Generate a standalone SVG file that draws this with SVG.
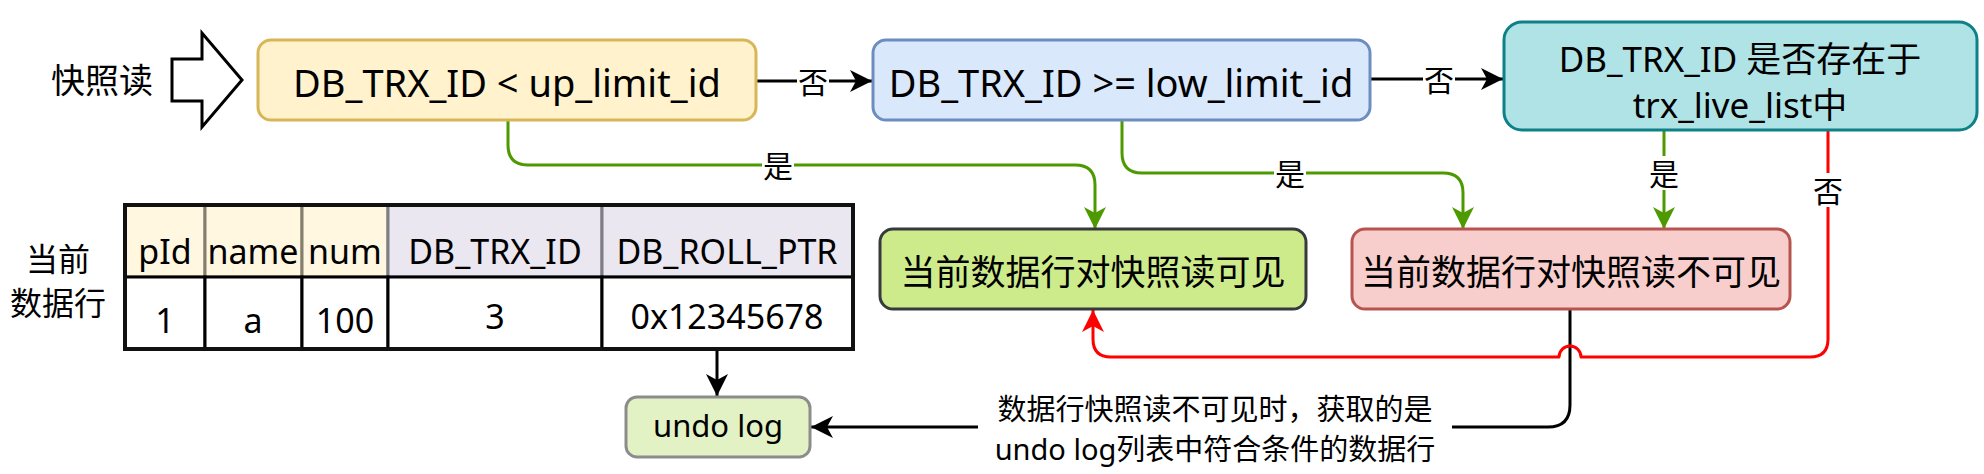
<svg xmlns="http://www.w3.org/2000/svg" width="1984" height="474" viewBox="0 0 1984 474">
<style>
  text { font-family: "Noto Sans", "Noto Sans CJK SC", sans-serif; fill: #000; text-anchor: middle; dominant-baseline: central; }
  .big { font-size: 38px; }
  .mid { font-size: 35px; }
  .tbl { font-size: 34px; }
  .lbl { font-size: 30px; }
  .bg { fill: #ffffff; stroke: none; }
  .ln { fill: none; stroke-width: 3; stroke-linejoin: round; }
  .blk { stroke: #000000; }
  .grn { stroke: #4d9900; }
  .red { stroke: #ff0000; }
  .box { stroke-width: 3; }
</style>
<defs>
  <marker id="aBlack" markerUnits="userSpaceOnUse" markerWidth="24" markerHeight="24" refX="22" refY="11" orient="auto">
    <path d="M0,0 L22,11 L0,22 L6,11 Z" fill="#000000"/>
  </marker>
  <marker id="aGreen" markerUnits="userSpaceOnUse" markerWidth="24" markerHeight="24" refX="22" refY="11" orient="auto">
    <path d="M0,0 L22,11 L0,22 L6,11 Z" fill="#4d9900"/>
  </marker>
  <marker id="aRed" markerUnits="userSpaceOnUse" markerWidth="24" markerHeight="24" refX="22" refY="11" orient="auto">
    <path d="M0,0 L22,11 L0,22 L6,11 Z" fill="#ff0000"/>
  </marker>
</defs>
<rect x="0" y="0" width="1984" height="474" fill="#ffffff"/>

<g id="snapshot-read">
  <text x="102" y="80" style="font-size:34px">快照读</text>
  <polygon points="172,59 202,59 202,33 242,80 202,127 202,101 172,101" fill="#ffffff" stroke="#000000" stroke-width="3" stroke-linejoin="miter"/>
</g>

<g id="connectors">
  <!-- box1 -> box2 -->
  <path class="ln blk" d="M757,81 H872" marker-end="url(#aBlack)"/>
  <!-- box2 -> box3 -->
  <path class="ln blk" d="M1370,79 H1503" marker-end="url(#aBlack)"/>
  <!-- box1 -> visible -->
  <path class="ln grn" d="M508,120 V145 Q508,165 528,165 H1075 Q1095,165 1095,185 V229" marker-end="url(#aGreen)"/>
  <!-- box2 -> invisible -->
  <path class="ln grn" d="M1122,120 V153 Q1122,173 1142,173 H1443 Q1463,173 1463,193 V229" marker-end="url(#aGreen)"/>
  <!-- box3 -> invisible -->
  <path class="ln grn" d="M1664,130 V229" marker-end="url(#aGreen)"/>
  <!-- invisible -> undo log -->
  <path class="ln blk" d="M1570,309 V405 Q1570,427 1548,427 H811" marker-end="url(#aBlack)"/>
  <!-- box3 -> visible (red) -->
  <path class="ln red" d="M1828,130 V339 Q1828,357 1810,357 H1581 A11,11 0 0 0 1559,357 H1111 Q1093,357 1093,339 V310" marker-end="url(#aRed)"/>
  <!-- table -> undo log -->
  <path class="ln blk" d="M717,349 V396" marker-end="url(#aBlack)"/>

  <!-- labels -->
  <rect class="bg" x="797" y="64" width="32" height="34"/>
  <text class="lbl" x="813" y="81">否</text>
  <rect class="bg" x="1423" y="62" width="32" height="34"/>
  <text class="lbl" x="1439" y="79">否</text>
  <rect class="bg" x="762" y="148" width="32" height="34"/>
  <text class="lbl" x="778" y="165">是</text>
  <rect class="bg" x="1274" y="156" width="32" height="34"/>
  <text class="lbl" x="1290" y="173">是</text>
  <rect class="bg" x="1648" y="156" width="32" height="34"/>
  <text class="lbl" x="1664" y="173">是</text>
  <rect class="bg" x="1812" y="173" width="32" height="34"/>
  <text class="lbl" x="1828" y="190">否</text>
  <rect class="bg" x="978" y="390" width="474" height="78"/>
  <text x="1215" y="408" style="font-size:29px">数据行快照读不可见时，获取的是</text>
  <text x="1215" y="448" style="font-size:29px">undo log列表中符合条件的数据行</text>
</g>

<g id="cond-up-limit">
  <rect class="box" x="258" y="40" width="498" height="80" rx="13" fill="#fff2cc" stroke="#d6b656"/>
  <text class="big" x="507" y="82">DB_TRX_ID &lt; up_limit_id</text>
</g>

<g id="cond-low-limit">
  <rect class="box" x="873" y="40" width="497" height="80" rx="13" fill="#dae8fc" stroke="#6c8ebf"/>
  <text class="big" x="1121" y="82">DB_TRX_ID &gt;= low_limit_id</text>
</g>

<g id="cond-live-list">
  <rect class="box" x="1504" y="22" width="473" height="108" rx="18" fill="#b0e3e6" stroke="#0e8088"/>
  <text x="1740" y="58" style="font-size:35px">DB_TRX_ID 是否存在于</text>
  <text x="1740" y="104" style="font-size:35px">trx_live_list中</text>
</g>

<g id="visible">
  <rect class="box" x="880" y="229" width="426" height="80" rx="13" fill="#cdeb8b" stroke="#36393d"/>
  <text class="mid" x="1093" y="271">当前数据行对快照读可见</text>
</g>

<g id="invisible">
  <rect class="box" x="1352" y="229" width="438" height="80" rx="13" fill="#f8cecc" stroke="#b85450"/>
  <text class="mid" x="1571" y="271">当前数据行对快照读不可见</text>
</g>

<g id="undo-log">
  <rect class="box" x="626" y="397" width="184" height="60" rx="11" fill="#e2f2c4" stroke="#8c8c8c"/>
  <text x="718" y="425" style="font-size:31px">undo log</text>
</g>

<g id="current-row-label">
  <text x="58" y="258" style="font-size:32px">当前</text>
  <text x="58" y="302" style="font-size:32px">数据行</text>
</g>

<g id="data-table">
  <rect x="125" y="205" width="80" height="72" fill="#fff7e0" stroke="#847e6e" stroke-width="3"/>
  <rect x="205" y="205" width="97" height="72" fill="#fff7e0" stroke="#847e6e" stroke-width="3"/>
  <rect x="302" y="205" width="86" height="72" fill="#fff7e0" stroke="#847e6e" stroke-width="3"/>
  <rect x="388" y="205" width="214" height="72" fill="#ebe7f1" stroke="#7d7d85" stroke-width="3"/>
  <rect x="602" y="205" width="251" height="72" fill="#ebe7f1" stroke="#7d7d85" stroke-width="3"/>
  <rect x="125" y="277" width="80" height="72" fill="#ffffff" stroke="#000000" stroke-width="3"/>
  <rect x="205" y="277" width="97" height="72" fill="#ffffff" stroke="#000000" stroke-width="3"/>
  <rect x="302" y="277" width="86" height="72" fill="#ffffff" stroke="#000000" stroke-width="3"/>
  <rect x="388" y="277" width="214" height="72" fill="#ffffff" stroke="#000000" stroke-width="3"/>
  <rect x="602" y="277" width="251" height="72" fill="#ffffff" stroke="#000000" stroke-width="3"/>
  <rect x="125" y="205" width="728" height="144" fill="none" stroke="#111111" stroke-width="4"/>
  <text class="tbl" x="165" y="251">pId</text>
  <text class="tbl" x="253" y="251">name</text>
  <text class="tbl" x="345" y="251">num</text>
  <text class="tbl" x="495" y="251">DB_TRX_ID</text>
  <text class="tbl" x="727" y="251">DB_ROLL_PTR</text>
  <text class="tbl" x="165" y="320">1</text>
  <text class="tbl" x="253" y="320">a</text>
  <text class="tbl" x="345" y="320">100</text>
  <text class="tbl" x="495" y="316">3</text>
  <text class="tbl" x="727" y="316">0x12345678</text>
</g>
</svg>
